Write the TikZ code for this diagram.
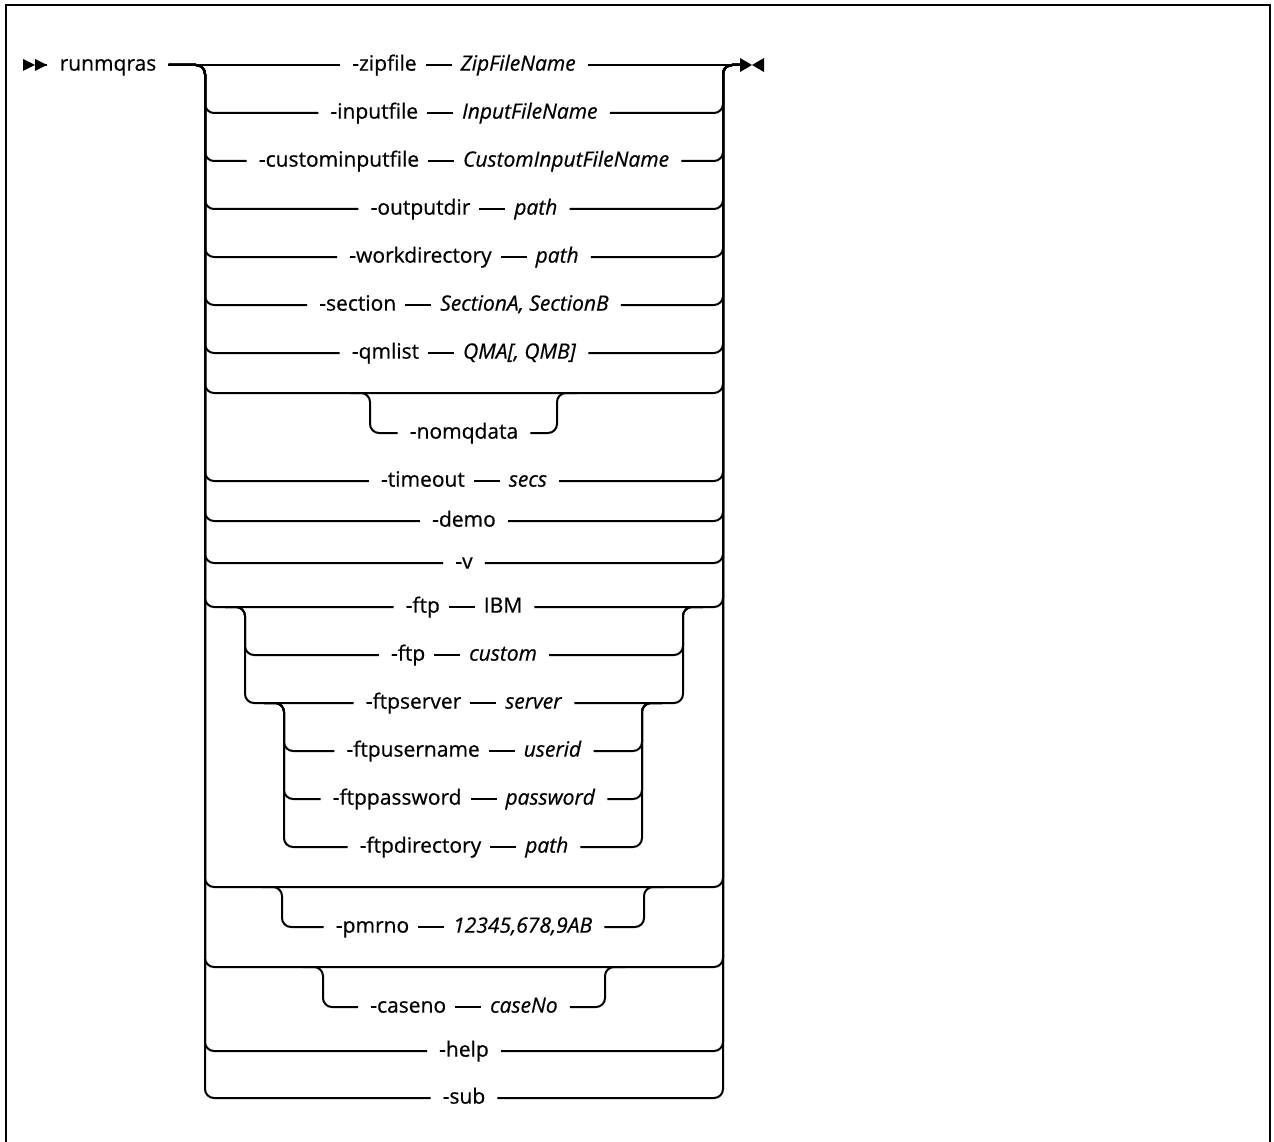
\documentclass[tikz,border=0pt]{standalone}
\usepackage{fontspec}
\setmainfont{Open Sans}[FakeBold=0.6]

\newcommand{\argdash}{\hspace{9pt}\rule[\dimexpr0.5ex-1pt\relax]{26pt}{2pt}\hspace{9pt}}

\begin{document}
\fontsize{21}{25}\selectfont
\begin{tikzpicture}[x=1pt, y=-1pt,
    rail/.style={line width=2pt, rounded corners=9pt},
    opt/.style={anchor=mid, inner xsep=12pt, inner ysep=0pt}]
  \useasboundingbox (0,0) rectangle (1274,1142);
  % frame, open at the bottom
  \draw[line width=2pt] (6,1142) -- (6,5) -- (1270,5) -- (1270,1142);

  % start and end marks
  \node[opt] (cmd) at (108,65) {runmqras};
  \fill (23,59) -- (35,65) -- (23,71) -- cycle;
  \fill (35,59) -- (47,65) -- (35,71) -- cycle;
  \draw[rail] (35,65) -- (cmd.mid west);
  \coordinate (fin) at (740,65);
  \fill (740,58) -- (752,65) -- (740,72) -- cycle;
  \fill (764,58) -- (752,65) -- (764,72) -- cycle;

  % top row
  \node[opt] (zip) at (464,65) {-zipfile\argdash\textit{ZipFileName}};
  \draw[rail] (cmd.mid east) -- (zip.mid west);
  \draw[rail] (zip.mid east) -- (fin);

  % rows between the two main rails
  \foreach \row/\y/\txt in {
      input/113/{-inputfile\argdash\textit{InputFileName}},
      custom/161/{-custominputfile\argdash\textit{CustomInputFileName}},
      outdir/209/{-outputdir\argdash\textit{path}},
      workdir/257/{-workdirectory\argdash\textit{path}},
      section/305/{-section\argdash\textit{SectionA, SectionB}},
      qmlist/353/{-qmlist\argdash\textit{QMA[, QMB]}},
      timeout/481/{-timeout\argdash\textit{secs}},
      demo/521/{-demo},
      verb/563/{-v},
      ftpibm/607/{-ftp\argdash IBM},
      help/1051/{-help},
      sub/1098/{-sub}}{
    \node[opt] (\row) at (464,\y) {\txt};
    \draw[rail] (cmd.mid east) -- (205,65) -- (205,\y) -- (\row.mid west);
    \draw[rail] (\row.mid east) -- (723,\y) -- (723,65) -- (fin);
  }
  % empty rows carrying an optional item
  \foreach \y in {393,887,967}
    \draw[rail] (cmd.mid east) -- (205,65) -- (205,\y) -- (723,\y) -- (723,65) -- (fin);

  % -nomqdata
  \node[opt] (nomq) at (464,433) {-nomqdata};
  \draw[rail] (350,393) -- (370,393) -- (370,433) -- (nomq.mid west);
  \draw[rail] (nomq.mid east) -- (557,433) -- (557,393) -- (577,393);

  % ftp choices
  \foreach \row/\y/\txt in {
      ftpcustom/655/{-ftp\argdash\textit{custom}},
      ftpserver/703/{-ftpserver\argdash\textit{server}}}{
    \node[opt] (\row) at (464,\y) {\txt};
    \draw[rail] (225,607) -- (245,607) -- (245,\y) -- (\row.mid west);
    \draw[rail] (\row.mid east) -- (683,\y) -- (683,607) -- (703,607);
  }
  \foreach \row/\y/\txt in {
      ftpuser/751/{-ftpusername\argdash\textit{userid}},
      ftppass/799/{-ftppassword\argdash\textit{password}},
      ftpdir/847/{-ftpdirectory\argdash\textit{path}}}{
    \node[opt] (\row) at (464,\y) {\txt};
    \draw[rail] (264,703) -- (284,703) -- (284,\y) -- (\row.mid west);
    \draw[rail] (\row.mid east) -- (642,\y) -- (642,703) -- (662,703);
  }

  % -pmrno and -caseno
  \node[opt] (pmrno) at (464,927) {-pmrno\argdash\textit{12345,678,9AB}};
  \draw[rail] (262,887) -- (282,887) -- (282,927) -- (pmrno.mid west);
  \draw[rail] (pmrno.mid east) -- (644,927) -- (644,887) -- (664,887);
  \node[opt] (caseno) at (464,1007) {-caseno\argdash\textit{caseNo}};
  \draw[rail] (303,967) -- (323,967) -- (323,1007) -- (caseno.mid west);
  \draw[rail] (caseno.mid east) -- (605,1007) -- (605,967) -- (625,967);
\end{tikzpicture}
\end{document}
